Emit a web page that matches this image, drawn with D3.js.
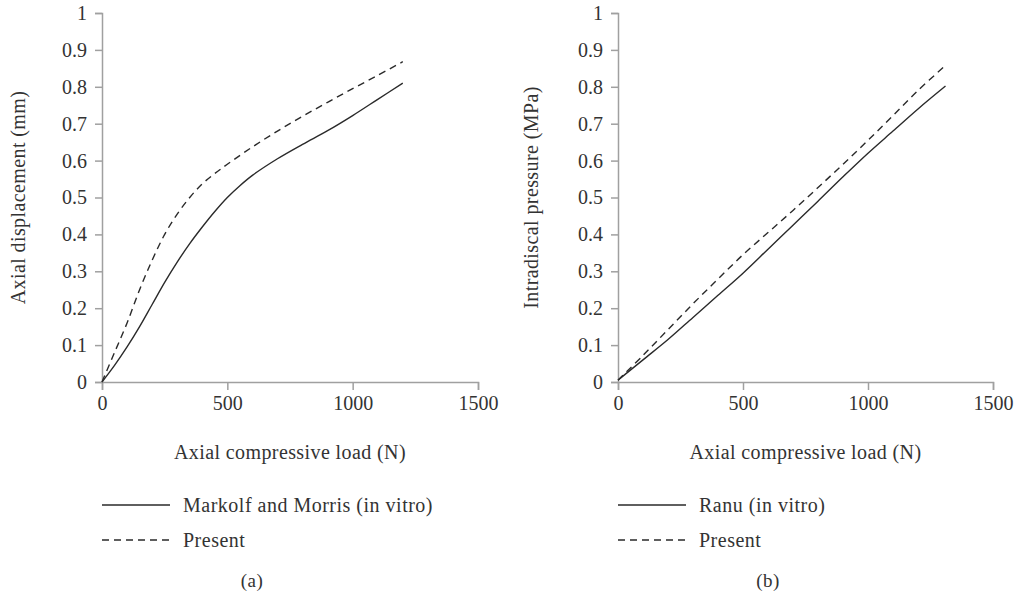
<!DOCTYPE html>
<html>
<head>
<meta charset="utf-8">
<script src="https://cdn.jsdelivr.net/npm/d3@7"></script>
<style>
body { margin: 0; background: #fff; }
text { font-family: "Liberation Serif", "DejaVu Serif", serif; fill: #333; }
</style>
</head>
<body>
<script>
// panel (a): axial displacement (mm) vs load (N)
var loadMarkolf = [0, 50, 100, 150, 200, 250, 300, 350, 400, 450, 500, 550, 600, 700, 800, 900, 1000, 1100, 1200],
    markolf =     [0, 0.045, 0.095, 0.15, 0.21, 0.27, 0.325, 0.375, 0.42, 0.462, 0.5, 0.532, 0.56, 0.605, 0.644, 0.681, 0.722, 0.766, 0.81];
var loadPresentA = [0, 50, 100, 150, 200, 250, 300, 350, 400, 450, 500, 600, 700, 800, 900, 1000, 1100, 1200],
    presentA =     [0, 0.08, 0.16, 0.25, 0.33, 0.4, 0.455, 0.5, 0.537, 0.565, 0.59, 0.637, 0.68, 0.72, 0.758, 0.795, 0.831, 0.868];

// panel (b): intradiscal pressure (MPa) vs load (N)
var loadRanu = [0, 100, 200, 300, 400, 500, 600, 700, 800, 900, 1000, 1100, 1200, 1310],
    ranu =     [0.005, 0.06, 0.115, 0.175, 0.235, 0.295, 0.36, 0.425, 0.49, 0.556, 0.62, 0.68, 0.74, 0.802];
var loadPresentB = [0, 100, 200, 300, 400, 500, 600, 700, 800, 900, 1000, 1100, 1200, 1310],
    presentB =     [0.005, 0.072, 0.142, 0.212, 0.279, 0.345, 0.405, 0.465, 0.527, 0.59, 0.655, 0.722, 0.79, 0.858];

var xTicks = [0, 500, 1000, 1500],
    yTicks = [0, 0.1, 0.2, 0.3, 0.4, 0.5, 0.6, 0.7, 0.8, 0.9, 1];

var w = 1016, h = 595;

var svg = d3.select("body")
    .append("svg")
    .attr("width", w)
    .attr("height", h);

var panels = [
    {left: 102, right: 478, ylabel: "Axial displacement (mm)", ylabelX: 25, tag: "(a)",
     series: [{x: loadMarkolf, y: markolf, name: "Markolf and Morris (in vitro)", dash: null},
              {x: loadPresentA, y: presentA, name: "Present", dash: "7,5"}]},
    {left: 618, right: 993, ylabel: "Intradiscal pressure (MPa)", ylabelX: 538, tag: "(b)",
     series: [{x: loadRanu, y: ranu, name: "Ranu (in vitro)", dash: null},
              {x: loadPresentB, y: presentB, name: "Present", dash: "7,5"}]}
];

var plotTop = 13, plotBottom = 382;

panels.forEach(function (p) {
    var x = d3.scaleLinear().domain([0, 1500]).range([p.left, p.right]);
    var y = d3.scaleLinear().domain([0, 1]).range([plotBottom, plotTop]);

    var xAxis = svg.append("g")
        .attr("transform", "translate(0," + plotBottom + ")")
        .call(d3.axisBottom(x).tickValues(xTicks).tickSize(8).tickPadding(6).tickFormat(d3.format("d")));
    var yAxis = svg.append("g")
        .attr("transform", "translate(" + p.left + ",0)")
        .call(d3.axisLeft(y).tickValues(yTicks).tickSize(7).tickPadding(8).tickFormat(function (d) { return d; }));

    [xAxis, yAxis].forEach(function (g) {
        g.select(".domain").attr("stroke", "#a0a0a0").attr("stroke-width", 1.5);
        g.selectAll(".tick line").attr("stroke", "#a0a0a0").attr("stroke-width", 1.5);
        g.selectAll(".tick text").attr("font-size", "20px").attr("fill", "#333")
            .attr("font-family", "Liberation Serif, serif");
    });

    var line = d3.line()
        .x(function (d) { return x(d[0]); })
        .y(function (d) { return y(d[1]); })
        .curve(d3.curveCatmullRom.alpha(0.5));

    p.series.forEach(function (s) {
        svg.append("path")
            .datum(d3.zip(s.x, s.y))
            .attr("d", line)
            .attr("fill", "none")
            .attr("stroke", "#2a2a2a")
            .attr("stroke-width", 1.4)
            .attr("stroke-dasharray", s.dash);
    });

    // axis titles
    svg.append("text")
        .attr("transform", "translate(" + p.ylabelX + "," + ((plotTop + plotBottom) / 2) + ") rotate(-90)")
        .attr("text-anchor", "middle")
        .attr("font-size", "20px")
        .attr("letter-spacing", "0.4px")
        .text(p.ylabel);
    svg.append("text")
        .attr("x", (p.left + p.right) / 2)
        .attr("y", 459)
        .attr("text-anchor", "middle")
        .attr("font-size", "20px")
        .attr("letter-spacing", "0.4px")
        .text("Axial compressive load (N)");

    // legend
    var leg = svg.selectAll(null)
        .data(p.series)
        .enter()
        .append("g")
        .attr("transform", function (d, i) { return "translate(" + p.left + "," + (505 + i * 35) + ")"; });
    leg.append("line")
        .attr("x1", 0).attr("x2", 68)
        .attr("stroke", "#2a2a2a")
        .attr("stroke-width", 1.4)
        .attr("stroke-dasharray", function (d) { return d.dash; });
    leg.append("text")
        .attr("x", 81)
        .attr("y", 7)
        .attr("font-size", "20px")
        .attr("letter-spacing", "0.5px")
        .text(function (d) { return d.name; });

    svg.append("text")
        .attr("x", p.left + 150)
        .attr("y", 587)
        .attr("text-anchor", "middle")
        .attr("font-size", "19px")
        .attr("letter-spacing", "0.5px")
        .text(p.tag);
});
</script>
</body>
</html>
